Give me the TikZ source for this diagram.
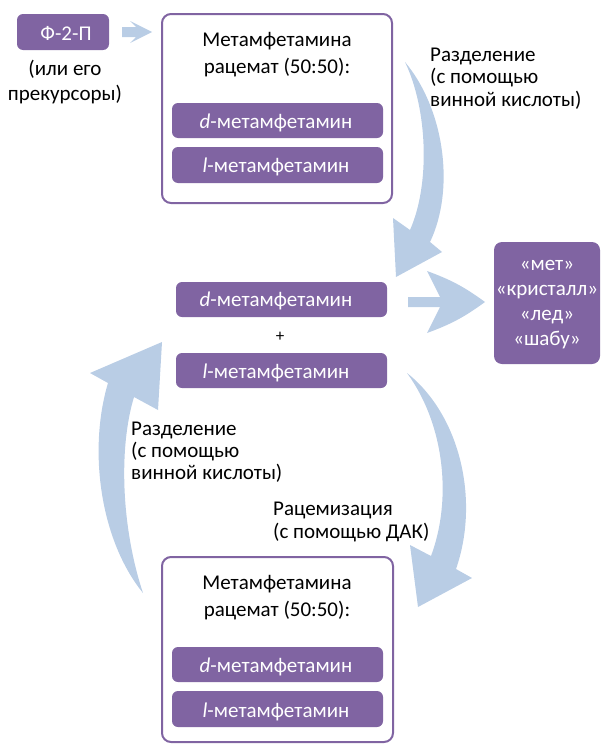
\documentclass[tikz,border=0pt]{standalone}
\usepackage{fontspec}
\setmainfont{Carlito}
\definecolor{purp}{HTML}{8064A2}
\definecolor{lblue}{HTML}{B9CDE5}
\begin{document}
\begin{tikzpicture}[x=1pt,y=-1pt,
  every node/.style={font=\fontsize{21}{25}\selectfont, inner sep=0pt},
  bar/.style={fill=purp, rounded corners=6pt},
  frame/.style={draw=purp, line width=2pt, rounded corners=9pt, fill=white},
  wtext/.style={text=white, anchor=base},
  btext/.style={text=black, anchor=base},
  ltext/.style={text=black, anchor=base west},
  flow/.style={fill=lblue, draw=none}]
\useasboundingbox (0,0) rectangle (601,744);

% ---- curved flow arrows ----
\fill[flow] (405,62) .. controls (445,110) and (455,190) .. (430,242) -- (442,252) -- (396,277) -- (393,218) -- (410,230) .. controls (430,185) and (428,110) .. (405,62) -- cycle;
\fill[flow] (407,373) .. controls (460,415) and (480,500) .. (456,569) -- (472,578) -- (418,607) -- (410,545) -- (431,556) .. controls (452,500) and (445,425) .. (407,373) -- cycle;
\fill[flow] (143,593) .. controls (100,540) and (88,450) .. (108,383) -- (90,373) -- (162,342) -- (158,410) -- (134,397) .. controls (118,450) and (122,530) .. (143,593) -- cycle;
% ---- straight arrows ----
\fill[flow] (122,27) -- (136,27) -- (130,21) -- (152,32) -- (130,43) -- (136,37) -- (122,37) -- cycle;
\fill[flow] (408,297) -- (440,297) -- (427,271) to[bend left=8] (485,302) to[bend left=8] (427,333) -- (440,307) -- (408,307) -- cycle;

% ---- F-2-P ----
\node[bar, minimum width=92pt, minimum height=36pt] (f2p) at (63,32) {};
\node[wtext] (f2pt) at (66,40) {Ф-2-П};
\node[btext] (prec1) at (65,75) {(или его};
\node[btext] (prec2) at (65,100) {прекурсоры)};

% ---- top racemate box ----
\draw[frame] (162,14) rectangle (392,203);
\node[btext] (t1) at (277,46) {Метамфетамина};
\node[btext] (t2) at (277,73) {рацемат (50:50):};
\node[bar, minimum width=211pt, minimum height=35pt] (tb1) at (277.5,120.5) {};
\node[wtext] (tb1t) at (276,128) {\itshape d\upshape-метамфетамин};
\node[bar, minimum width=211pt, minimum height=36pt] (tb2) at (277.5,165) {};
\node[wtext] (tb2t) at (276,172.5) {\itshape l\upshape-метамфетамин};

% ---- middle ----
\node[bar, minimum width=211pt, minimum height=35pt] (mb1) at (281.5,299.5) {};
\node[wtext] (mb1t) at (276,306.5) {\itshape d\upshape-метамфетамин};
\node[btext, font=\fontsize{17}{20}\selectfont] (plus) at (280,341) {+};
\node[bar, minimum width=211pt, minimum height=35pt] (mb2) at (281.5,370.5) {};
\node[wtext] (mb2t) at (276,378) {\itshape l\upshape-метамфетамин};

% ---- result ----
\node[bar, rounded corners=8pt, minimum width=106pt, minimum height=122pt] (res) at (547,303) {};
\node[wtext] (r1) at (547,270) {«мет»};
\node[wtext] (r2) at (547,295) {«кристалл»};
\node[wtext] (r3) at (547,320) {«лед»};
\node[wtext] (r4) at (547,345) {«шабу»};

% ---- bottom racemate box ----
\draw[frame] (162,557) rectangle (393,742);
\node[btext] (b1) at (277,589) {Метамфетамина};
\node[btext] (b2) at (277,616) {рацемат (50:50):};
\node[bar, minimum width=211pt, minimum height=35pt] (bb1) at (277.5,664.5) {};
\node[wtext] (bb1t) at (276,672) {\itshape d\upshape-метамфетамин};
\node[bar, minimum width=211pt, minimum height=36pt] (bb2) at (277.5,709) {};
\node[wtext] (bb2t) at (276,717) {\itshape l\upshape-метамфетамин};

% ---- labels ----
\node[ltext] (s1a) at (430,61) {Разделение};
\node[ltext] (s1b) at (430,83.5) {(с помощью};
\node[ltext] (s1c) at (430,106) {винной кислоты)};
\node[ltext] (s2a) at (131,435) {Разделение};
\node[ltext] (s2b) at (131,457) {(с помощью};
\node[ltext] (s2c) at (131,479) {винной кислоты)};
\node[ltext] (r2a) at (273,515) {Рацемизация};
\node[ltext] (r2b) at (273,538) {(с помощью ДАК)};
\end{tikzpicture}
\end{document}
